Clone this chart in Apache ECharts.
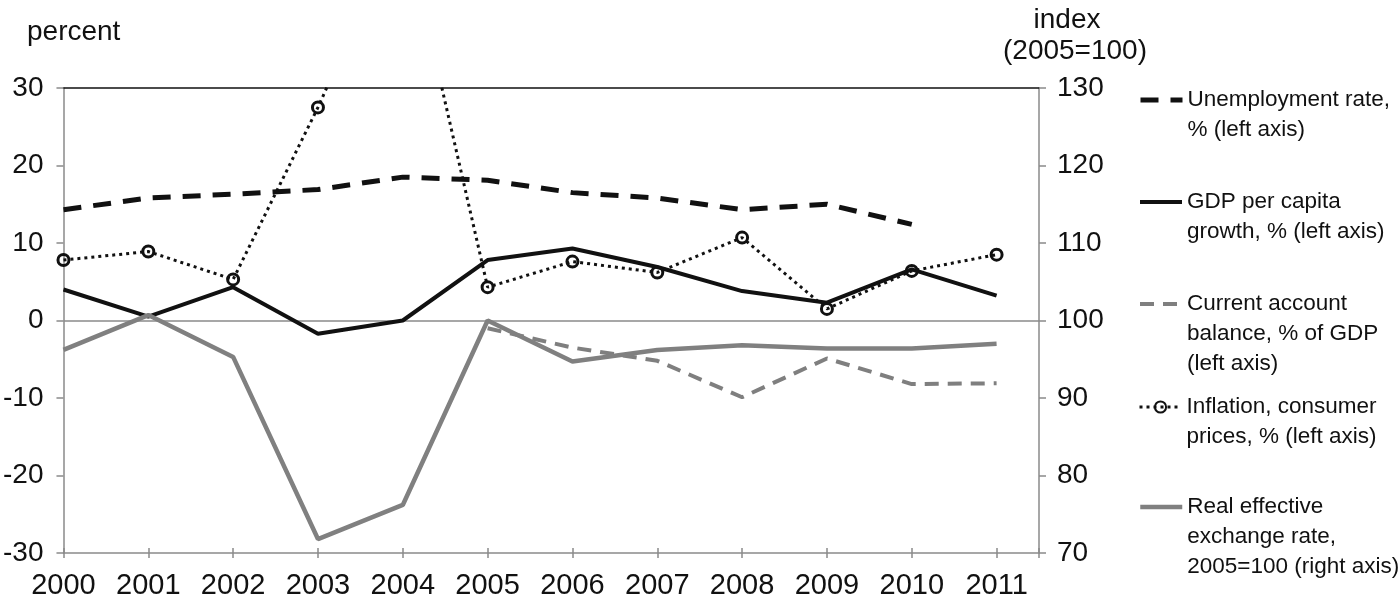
<!DOCTYPE html>
<html>
<head>
<meta charset="utf-8">
<script src="https://cdn.jsdelivr.net/npm/echarts@6/dist/echarts.min.js"></script>
<style>
html,body{margin:0;padding:0;background:#fff;}
#chart{width:1400px;height:603px;}
</style>
</head>
<body>
<div id="chart"></div>
<script>
const years = [2000, 2001, 2002, 2003, 2004, 2005, 2006, 2007, 2008, 2009, 2010, 2011];
const unemployment = [14.3, 15.8, 16.3, 16.9, 18.5, 18.1, 16.5, 15.8, 14.3, 15.0, 12.4, null];
const gdpGrowth = [4.0, 0.5, 4.3, -1.7, 0.0, 7.8, 9.3, 6.9, 3.8, 2.3, 6.6, 3.2];
const currentAccount = [null, null, null, null, null, -1.0, -3.5, -5.2, -9.9, -4.9, -8.2, -8.1];
const inflation = [7.8, 8.9, 5.3, 27.5, 52.0, 4.3, 7.6, 6.2, 10.7, 1.5, 6.4, 8.5];
const reer = [96.2, 100.7, 95.3, 71.8, 76.2, 100.0, 94.7, 96.2, 96.8, 96.4, 96.4, 97.0];
const seriesNames = [
  'Unemployment rate,\n% (left axis)',
  'GDP per capita\ngrowth, % (left axis)',
  'Current account\nbalance, % of GDP\n(left axis)',
  'Inflation, consumer\nprices, % (left axis)',
  'Real effective\nexchange rate,\n2005=100 (right axis)'
];
const leftAxisTitle = 'percent';
const rightAxisTitle = ['index', '(2005=100)'];

const FONT = "'Liberation Sans', Arial, sans-serif";
const AXIS_GRAY = '#8a8a8a';

function pairs(arr) {
  const out = [];
  years.forEach((y, i) => { if (arr[i] !== null) out.push([y, arr[i]]); });
  return out;
}

const chart = echarts.init(document.getElementById('chart'), null, {renderer: 'canvas'});

const LH = 30;
const iconCenters = [100, 202, 304, 407, 507];
const legends = seriesNames.map((name, i) => {
  const n = name.split('\n').length;
  return {
    data: [name],
    orient: 'vertical',
    left: 1138,
    top: iconCenters[i] - (2 * n - 1) * LH / 2,
    padding: 0,
    itemWidth: 42,
    itemHeight: 14,
    selectedMode: false,
    itemStyle: i === 3 ? {} : {opacity: 0},
    lineStyle: {width: 'inherit'},
    formatter: s => ' \n'.repeat(n - 1) + s,
    textStyle: {fontFamily: FONT, fontSize: 22.5, color: '#111', lineHeight: LH}
  };
});

const xBase = {
  type: 'value', min: 2000, max: 2011.5, interval: 1,
  splitLine: {show: false}
};

const option = {
  animation: false,
  backgroundColor: '#fff',
  grid: {left: 60, right: 361, top: 88, bottom: 50, containLabel: false},
  legend: legends,
  graphic: [
    {type: 'text', left: 27, top: 18, style: {text: leftAxisTitle, font: '28px ' + FONT, fill: '#111'}},
    {type: 'text', x: 1067, y: 20, style: {text: rightAxisTitle[0], font: '28px ' + FONT, fill: '#111', align: 'center', verticalAlign: 'middle'}},
    {type: 'text', x: 1075, y: 51, style: {text: rightAxisTitle[1], font: '28px ' + FONT, fill: '#111', align: 'center', verticalAlign: 'middle'}}
  ],
  xAxis: [
    Object.assign({}, xBase, {
      position: 'bottom',
      axisLine: {show: true, onZero: false, lineStyle: {color: AXIS_GRAY, width: 1.5}},
      axisTick: {show: true, inside: false, length: 5, lineStyle: {color: AXIS_GRAY, width: 1.5}},
      axisLabel: {
        show: true, margin: 18, fontFamily: FONT, fontSize: 29, color: '#111',
        formatter: v => Number.isInteger(v) ? String(v) : ''
      }
    }),
    Object.assign({}, xBase, {
      position: 'top',
      axisLine: {show: true, onZero: false, lineStyle: {color: '#111', width: 1.5}},
      axisTick: {show: false}, axisLabel: {show: false}
    }),
    Object.assign({}, xBase, {
      position: 'bottom',
      axisLine: {show: false, onZero: false},
      axisTick: {show: true, inside: true, length: 5, lineStyle: {color: AXIS_GRAY, width: 1.5}},
      axisLabel: {show: false}
    })
  ],
  yAxis: [
    {
      type: 'value', position: 'left', min: -30, max: 30, interval: 10,
      axisLine: {show: true, onZero: false, lineStyle: {color: AXIS_GRAY, width: 1.5}},
      axisTick: {show: true, inside: false, length: 7, lineStyle: {color: AXIS_GRAY, width: 1.5}},
      axisLabel: {margin: 20, fontFamily: FONT, fontSize: 28, color: '#111'},
      splitLine: {
        show: true, showMinLine: true, showMaxLine: true,
        lineStyle: {width: 1.5, color: ['transparent', 'transparent', 'transparent', AXIS_GRAY, 'transparent', 'transparent', 'transparent']}
      }
    },
    {
      type: 'value', position: 'right', min: 70, max: 130, interval: 10,
      axisLine: {show: true, onZero: false, lineStyle: {color: AXIS_GRAY, width: 1.5}},
      axisTick: {show: true, inside: false, length: 7, lineStyle: {color: AXIS_GRAY, width: 1.5}},
      axisLabel: {margin: 18, fontFamily: FONT, fontSize: 28, color: '#111'},
      splitLine: {show: false}
    }
  ],
  series: [
    {
      name: seriesNames[0], type: 'line', xAxisIndex: 0, yAxisIndex: 0,
      data: pairs(unemployment), symbol: 'none', color: '#111',
      lineStyle: {color: '#111', width: 5, type: [18, 12]}
    },
    {
      name: seriesNames[1], type: 'line', xAxisIndex: 0, yAxisIndex: 0,
      data: pairs(gdpGrowth), symbol: 'none', color: '#111',
      lineStyle: {color: '#111', width: 4}
    },
    {
      name: seriesNames[2], type: 'line', xAxisIndex: 0, yAxisIndex: 0,
      data: pairs(currentAccount), symbol: 'none', color: '#7f7f7f',
      lineStyle: {color: '#7f7f7f', width: 4, type: [14, 9]}
    },
    {
      name: seriesNames[3], type: 'line', xAxisIndex: 0, yAxisIndex: 0,
      data: pairs(inflation), symbol: 'circle', symbolSize: 11, showAllSymbol: true,
      color: '#111',
      itemStyle: {color: 'rgba(255,255,255,0)', borderColor: '#111', borderWidth: 3},
      lineStyle: {color: '#111', width: 3, type: [3, 4]}
    },
    {
      name: seriesNames[4], type: 'line', xAxisIndex: 0, yAxisIndex: 1,
      data: pairs(reer), symbol: 'none', color: '#808080',
      lineStyle: {color: '#808080', width: 4.5}
    }
  ]
};
chart.setOption(option);
</script>
</body>
</html>
